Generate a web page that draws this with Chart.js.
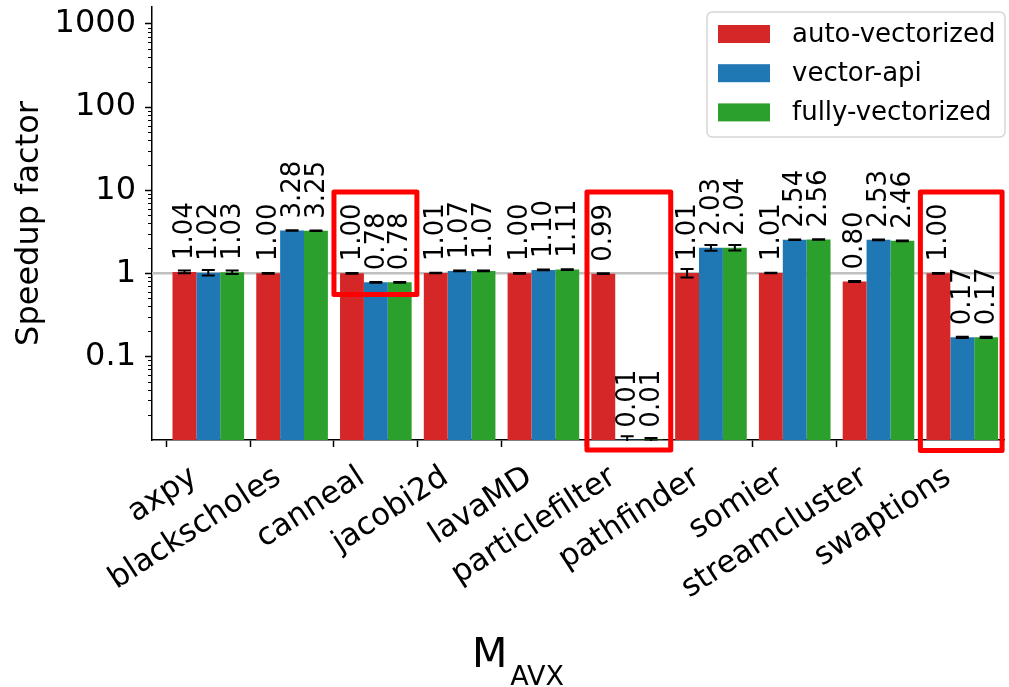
<!DOCTYPE html>
<html>
<head>
<meta charset="utf-8">
<script src="https://cdn.jsdelivr.net/npm/chart.js@4.4.1/dist/chart.umd.min.js"></script>
<style>
  html, body { margin: 0; padding: 0; background: #fff; }
  #wrap { width: 1009px; height: 687px; position: relative; }
</style>
</head>
<body>
<div id="wrap"><canvas id="c" width="1009" height="687"></canvas></div>
<script>
// Benchmarks and measured speedups (relative to the scalar baseline)
const categories = ['axpy', 'blackscholes', 'canneal', 'jacobi2d', 'lavaMD',
                    'particlefilter', 'pathfinder', 'somier', 'streamcluster', 'swaptions'];
const seriesNames = ['auto-vectorized', 'vector-api', 'fully-vectorized'];
const seriesColors = ['#d62728', '#1f77b4', '#2ca02c'];

const autoVectorized  = [1.04, 1.00, 1.00, 1.01, 1.00, 0.99, 1.01, 1.01, 0.80, 1.00];
const vectorApi       = [1.02, 3.28, 0.78, 1.07, 1.10, 0.01, 2.03, 2.54, 2.53, 0.17];
const fullyVectorized = [1.03, 3.25, 0.78, 1.07, 1.11, 0.01, 2.04, 2.56, 2.46, 0.17];

// standard deviation of each measurement
const autoVectorizedErr  = [0.04, 0.01, 0.01, 0.01, 0.01, 0.01, 0.12, 0.01, 0.01, 0.01];
const vectorApiErr       = [0.08, 0.02, 0.01, 0.01, 0.01, 0.001, 0.16, 0.02, 0.02, 0.003];
const fullyVectorizedErr = [0.05, 0.02, 0.01, 0.01, 0.01, 0.0005, 0.15, 0.02, 0.02, 0.003];

const yTickValues = [0.1, 1, 10, 100, 1000];
const yTickLabels = ['0.1', '1', '10', '100', '1000'];

// benchmarks boxed in red (x offsets in category units, y range in speedup units)
const highlights = [
  { category: 'canneal',        from: -0.50, to: 0.49, low: 0.556,  high: 9.55 },
  { category: 'particlefilter', from: -0.48, to: 0.52, low: 0.0075, high: 9.55 },
  { category: 'swaptions',      from: -0.50, to: 0.475, low: 0.0074, high: 9.55 }
];

const seriesValues = [autoVectorized, vectorApi, fullyVectorized];
const seriesErrors = [autoVectorizedErr, vectorApiErr, fullyVectorizedErr];

const FONT = "'DejaVu Sans', sans-serif";

const datasets = seriesNames.map((name, s) => ({
  label: name,
  data: seriesValues[s].map((v, i) => ({ x: i, y: v })),
  backgroundColor: seriesColors[s],
  borderWidth: 0,
  categoryPercentage: 0.855,
  barPercentage: 1.0
}));

const overlay = {
  id: 'overlay',
  beforeDatasetsDraw(chart) {
    const { ctx, chartArea: a, scales: { y } } = chart;
    const py = y.getPixelForValue(1);
    ctx.save();
    ctx.strokeStyle = '#c0c0c0';
    ctx.lineWidth = 2.5;
    ctx.beginPath();
    ctx.moveTo(a.left, py);
    ctx.lineTo(a.right, py);
    ctx.stroke();
    ctx.restore();
  },
  afterDatasetsDraw(chart) {
    const { ctx, chartArea: a, scales: { y } } = chart;
    ctx.save();
    // error bars
    ctx.beginPath();
    ctx.rect(a.left, a.top, a.right - a.left, a.bottom - a.top + 1);
    ctx.clip();
    ctx.strokeStyle = '#000';
    ctx.lineWidth = 2;
    seriesValues.forEach((vals, s) => {
      const meta = chart.getDatasetMeta(s);
      vals.forEach((v, i) => {
        const bar = meta.data[i];
        const e = seriesErrors[s][i];
        const top = y.getPixelForValue(v + e);
        const bot = y.getPixelForValue(Math.max(v - e, 1e-6));
        const cap = 6.5;
        ctx.beginPath();
        ctx.moveTo(bar.x, top); ctx.lineTo(bar.x, bot);
        ctx.moveTo(bar.x - cap, top); ctx.lineTo(bar.x + cap, top);
        ctx.moveTo(bar.x - cap, bot); ctx.lineTo(bar.x + cap, bot);
        ctx.stroke();
      });
    });
    ctx.restore();

    // rotated value labels
    ctx.save();
    ctx.fillStyle = '#000';
    ctx.font = '26px ' + FONT;
    ctx.textAlign = 'left';
    ctx.textBaseline = 'middle';
    seriesValues.forEach((vals, s) => {
      const meta = chart.getDatasetMeta(s);
      vals.forEach((v, i) => {
        const bar = meta.data[i];
        ctx.save();
        ctx.translate(bar.x + 1, bar.y - 12);
        ctx.rotate(-Math.PI / 2);
        ctx.fillText(v.toFixed(2), 0, 0);
        ctx.restore();
      });
    });
    ctx.restore();

    // minor ticks of the log axis
    ctx.save();
    ctx.strokeStyle = '#000';
    ctx.lineWidth = 1;
    for (let n = -3; n <= 3; n++) {
      for (let k = 2; k <= 9; k++) {
        const v = k * Math.pow(10, n);
        if (v < y.min || v > y.max) continue;
        const py = Math.round(y.getPixelForValue(v)) + 0.5;
        ctx.beginPath();
        ctx.moveTo(a.left - 4, py);
        ctx.lineTo(a.left, py);
        ctx.stroke();
      }
    }
    ctx.restore();
  },
  afterDraw(chart) {
    const { ctx, scales: { x, y } } = chart;
    // red highlight boxes
    ctx.save();
    ctx.strokeStyle = '#ff0000';
    ctx.lineWidth = 5;
    ctx.lineJoin = 'round';
    highlights.forEach(h => {
      const c = categories.indexOf(h.category);
      const x0 = x.getPixelForValue(c + h.from);
      const x1 = x.getPixelForValue(c + h.to);
      const y0 = y.getPixelForValue(h.high);
      const y1 = y.getPixelForValue(h.low);
      ctx.strokeRect(x0, y0, x1 - x0, y1 - y0);
    });
    ctx.restore();

    // legend
    ctx.save();
    const lx = 707, ly = 12, lw = 298, lh = 125;
    ctx.beginPath();
    ctx.roundRect(lx, ly, lw, lh, 5);
    ctx.fillStyle = 'rgba(255,255,255,0.8)';
    ctx.fill();
    ctx.strokeStyle = '#d6d6d6';
    ctx.lineWidth = 1.5;
    ctx.stroke();
    ctx.font = '26px ' + FONT;
    ctx.textBaseline = 'middle';
    ctx.textAlign = 'left';
    chart.data.datasets.forEach((ds, s) => {
      const cy = 34 + s * 39.2;
      ctx.fillStyle = ds.backgroundColor;
      ctx.fillRect(718, cy - 9, 52, 18);
      ctx.fillStyle = '#000';
      ctx.fillText(ds.label, 792, cy + 1);
    });
    ctx.restore();

    // x-axis title with subscript
    ctx.save();
    ctx.fillStyle = '#000';
    ctx.textAlign = 'left';
    ctx.textBaseline = 'alphabetic';
    ctx.font = '41px ' + FONT;
    ctx.fillText('M', 472, 667);
    const mw = ctx.measureText('M').width;
    ctx.font = '27px ' + FONT;
    ctx.fillText('AVX', 472 + mw + 3, 685);
    ctx.restore();
  }
};

new Chart(document.getElementById('c'), {
  type: 'bar',
  data: { datasets },
  options: {
    responsive: false,
    animation: false,
    devicePixelRatio: 1,
    layout: { padding: { top: 7, right: 5, left: 0, bottom: 0 } },
    plugins: { legend: { display: false }, tooltip: { enabled: false } },
    scales: {
      x: {
        type: 'linear',
        min: -0.672,
        max: 9.498,
        offset: false,
        afterBuildTicks: s => { s.ticks = categories.map((_, i) => ({ value: i })); },
        afterFit: s => { s.height = 247; s.paddingLeft = 0; s.paddingRight = 0; },
        grid: { drawOnChartArea: false, drawTicks: true, tickLength: 7, tickColor: '#000', tickWidth: 1.5 },
        border: { display: true, color: '#000', width: 1.5 },
        ticks: {
          autoSkip: false,
          minRotation: 33,
          maxRotation: 33,
          padding: 12,
          labelOffset: -14,
          color: '#000',
          font: { family: FONT, size: 31 },
          callback: v => categories[v]
        }
      },
      y: {
        type: 'logarithmic',
        min: 0.0099,
        max: 1600,
        afterBuildTicks: s => { s.ticks = yTickValues.map(v => ({ value: v, major: true })); },
        afterFit: s => { s.width = 152; s.paddingTop = 0; s.paddingBottom = 0; },
        grid: { drawOnChartArea: false, drawTicks: true, tickLength: 7, tickColor: '#000', tickWidth: 1.5 },
        border: { display: true, color: '#000', width: 1.5 },
        ticks: {
          padding: 9,
          color: '#000',
          font: { family: FONT, size: 32 },
          callback: v => { const i = yTickValues.indexOf(v); return i >= 0 ? yTickLabels[i] : ''; }
        },
        title: {
          display: true,
          text: 'Speedup factor',
          color: '#000',
          font: { family: FONT, size: 32 },
          padding: { top: 10, bottom: 0 }
        }
      }
    }
  },
  plugins: [overlay]
});
</script>
</body>
</html>
